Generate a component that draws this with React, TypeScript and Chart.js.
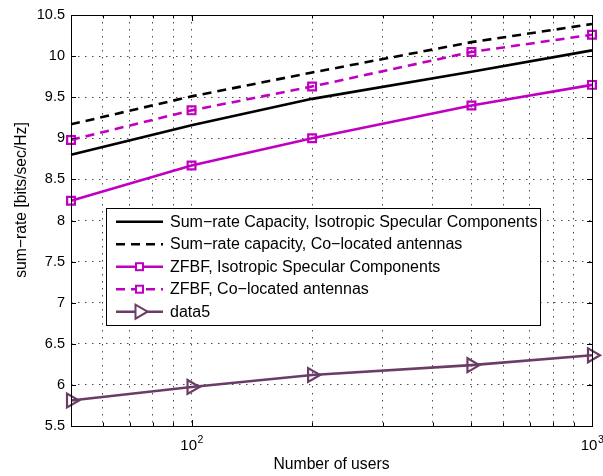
import React, { useEffect, useRef } from "react";
import { Chart, registerables } from "chart.js";

Chart.register(...registerables);

const users = [50, 100, 200, 500, 1000];
const capIso = [8.8, 9.16, 9.48, 9.81, 10.07];
const capCo = [9.17, 9.51, 9.8, 10.17, 10.39];
const zfbfIso = [8.24, 8.67, 9.0, 9.4, 9.65];
const zfbfCo = [8.98, 9.34, 9.63, 10.05, 10.26];
const data5 = [5.81, 5.975, 6.12, 6.24, 6.36];

const xGridTicks = [50, 60, 70, 80, 90, 100, 200, 300, 400, 500, 600, 700, 800, 900, 1000];
const xMajor = [100, 1000];
const xMajorLabels = ["2", "3"];
const yTicks = [5.5, 6, 6.5, 7, 7.5, 8, 8.5, 9, 9.5, 10, 10.5];

const legendLabels = [
  "Sum\u2212rate Capacity, Isotropic Specular Components",
  "Sum\u2212rate capacity, Co\u2212located antennas",
  "ZFBF, Isotropic Specular Components",
  "ZFBF, Co\u2212located antennas",
  "data5",
];

const MAG = "#c000c0";
const PURP = "#6b3d66";
const FONT = '"Liberation Sans", Arial, Helvetica, sans-serif';

const styles = [
  { color: "#000", dash: [] as number[], marker: "none" },
  { color: "#000", dash: [9, 6], marker: "none" },
  { color: MAG, dash: [] as number[], marker: "rect" },
  { color: MAG, dash: [9, 6], marker: "rect" },
  { color: PURP, dash: [] as number[], marker: "tri" },
];

function mk(label: string, arr: number[], i: number) {
  const s = styles[i];
  return {
    label,
    data: users.map((x, k) => ({ x, y: arr[k] })),
    borderColor: s.color,
    backgroundColor: "rgba(0,0,0,0)",
    borderWidth: 2.6,
    borderDash: s.dash,
    pointStyle: s.marker === "rect" ? "rect" : s.marker === "tri" ? "triangle" : false,
    pointRadius: s.marker === "rect" ? 5.5 : s.marker === "tri" ? 8 : 0,
    pointRotation: s.marker === "tri" ? 90 : 0,
    pointBorderWidth: 2.2,
    pointBorderColor: s.color,
    pointBackgroundColor: "rgba(0,0,0,0)",
    tension: 0,
    clip: false as any,
  };
}

const overlay = {
  id: "overlay",
  afterDraw(chart: any) {
    const { ctx, chartArea: a, scales } = chart;
    const xs = scales.x;
    const ys = scales.y;
    ctx.save();
    ctx.setLineDash([]);
    ctx.strokeStyle = "#000";
    ctx.lineWidth = 1;
    ctx.strokeRect(Math.round(a.left) + 0.5, Math.round(a.top) + 0.5, Math.round(a.right - a.left), Math.round(a.bottom - a.top));
    ctx.beginPath();
    for (const v of yTicks) {
      const py = Math.round(ys.getPixelForValue(v)) + 0.5;
      ctx.moveTo(a.left, py);
      ctx.lineTo(a.left + 5, py);
      ctx.moveTo(a.right, py);
      ctx.lineTo(a.right - 5, py);
    }
    for (const v of xGridTicks) {
      const px = Math.round(xs.getPixelForValue(v)) + 0.5;
      const len = xMajor.includes(v) ? 6 : 3.5;
      ctx.moveTo(px, a.bottom);
      ctx.lineTo(px, a.bottom - len);
      ctx.moveTo(px, a.top);
      ctx.lineTo(px, a.top + len);
    }
    ctx.stroke();
    ctx.fillStyle = "#000";
    ctx.textBaseline = "alphabetic";
    ctx.textAlign = "left";
    xMajor.forEach((v, i) => {
      const px = xs.getPixelForValue(v);
      ctx.font = "15px " + FONT;
      const w1 = ctx.measureText("10").width;
      ctx.font = "10.5px " + FONT;
      const w2 = ctx.measureText(xMajorLabels[i]).width;
      const x0 = px - (w1 + w2) / 2;
      ctx.font = "15px " + FONT;
      ctx.fillText("10", x0, 450);
      ctx.font = "10.5px " + FONT;
      ctx.fillText(xMajorLabels[i], x0 + w1 + 0.5, 443);
    });
    ctx.font = "15.7px " + FONT;
    ctx.textAlign = "center";
    ctx.fillText("Number of users", (a.left + a.right) / 2, 469);
    ctx.save();
    ctx.translate(25.5, 200);
    ctx.rotate(-Math.PI / 2);
    ctx.fillText("sum\u2212rate [bits/sec/Hz]", 0, 0);
    ctx.restore();
    const lx = 106, ly = 208, lw = 434, lh = 117;
    ctx.fillStyle = "#fff";
    ctx.fillRect(lx, ly, lw, lh);
    ctx.strokeStyle = "#000";
    ctx.lineWidth = 1;
    ctx.strokeRect(lx + 0.5, ly + 0.5, lw, lh);
    const rows = [221.7, 244.2, 266.7, 289.2, 311.7];
    legendLabels.forEach((lab, i) => {
      const s = styles[i];
      const y = rows[i];
      ctx.strokeStyle = s.color;
      ctx.lineWidth = 2.6;
      ctx.setLineDash(s.dash);
      ctx.beginPath();
      ctx.moveTo(116, y);
      ctx.lineTo(163, y);
      ctx.stroke();
      ctx.setLineDash([]);
      const cx = 139.5;
      ctx.lineWidth = 2;
      if (s.marker === "rect") {
        ctx.fillStyle = "#fff";
        ctx.fillRect(cx - 3.5, y - 3.5, 7, 7);
        ctx.strokeRect(cx - 3.5, y - 3.5, 7, 7);
      } else if (s.marker === "tri") {
        ctx.beginPath();
        ctx.moveTo(cx + 8, y);
        ctx.lineTo(cx - 4, y - 7);
        ctx.lineTo(cx - 4, y + 7);
        ctx.closePath();
        ctx.fillStyle = "#fff";
        ctx.fill();
        ctx.stroke();
      }
      ctx.fillStyle = "#000";
      ctx.font = "16px " + FONT;
      ctx.textAlign = "left";
      ctx.textBaseline = "middle";
      ctx.fillText(lab, 170, y + 0.5);
    });
    ctx.restore();
  },
};

export default function App() {
  const ref = useRef<HTMLCanvasElement | null>(null);
  useEffect(() => {
    document.body.style.margin = "0";
    const canvas = ref.current!;
    const gridOpts = { color: "rgba(0,0,0,0.7)", lineWidth: 1, drawTicks: false };
    const borderOpts = { display: false, dash: [1.5, 5.5] };
    const chart = new Chart(canvas, {
      type: "line",
      data: {
        datasets: [
          mk(legendLabels[0], capIso, 0),
          mk(legendLabels[1], capCo, 1),
          mk(legendLabels[2], zfbfIso, 2),
          mk(legendLabels[3], zfbfCo, 3),
          mk(legendLabels[4], data5, 4),
        ] as any,
      },
      options: {
        animation: false,
        responsive: false,
        devicePixelRatio: 1,
        layout: { padding: { top: 15, right: 11, left: 0, bottom: 0 } },
        plugins: { legend: { display: false }, tooltip: { enabled: false } },
        scales: {
          x: {
            type: "logarithmic",
            min: 50,
            max: 1000,
            afterBuildTicks: (s: any) => {
              s.ticks = xGridTicks.map((v) => ({ value: v }));
            },
            afterFit: (s: any) => {
              s.height = 50;
            },
            ticks: { display: false },
            border: borderOpts,
            grid: gridOpts,
          } as any,
          y: {
            type: "linear",
            min: 5.5,
            max: 10.5,
            afterBuildTicks: (s: any) => {
              s.ticks = yTicks.map((v) => ({ value: v }));
            },
            afterFit: (s: any) => {
              s.width = 71;
            },
            ticks: {
              padding: 6,
              color: "#000",
              font: { family: FONT, size: 14.5 },
              callback: (v: any) => String(v),
            },
            border: borderOpts,
            grid: gridOpts,
          } as any,
        },
      },
      plugins: [overlay],
    });
    return () => chart.destroy();
  }, []);
  return <canvas ref={ref} width={603} height={476} style={{ display: "block" }} />;
}
